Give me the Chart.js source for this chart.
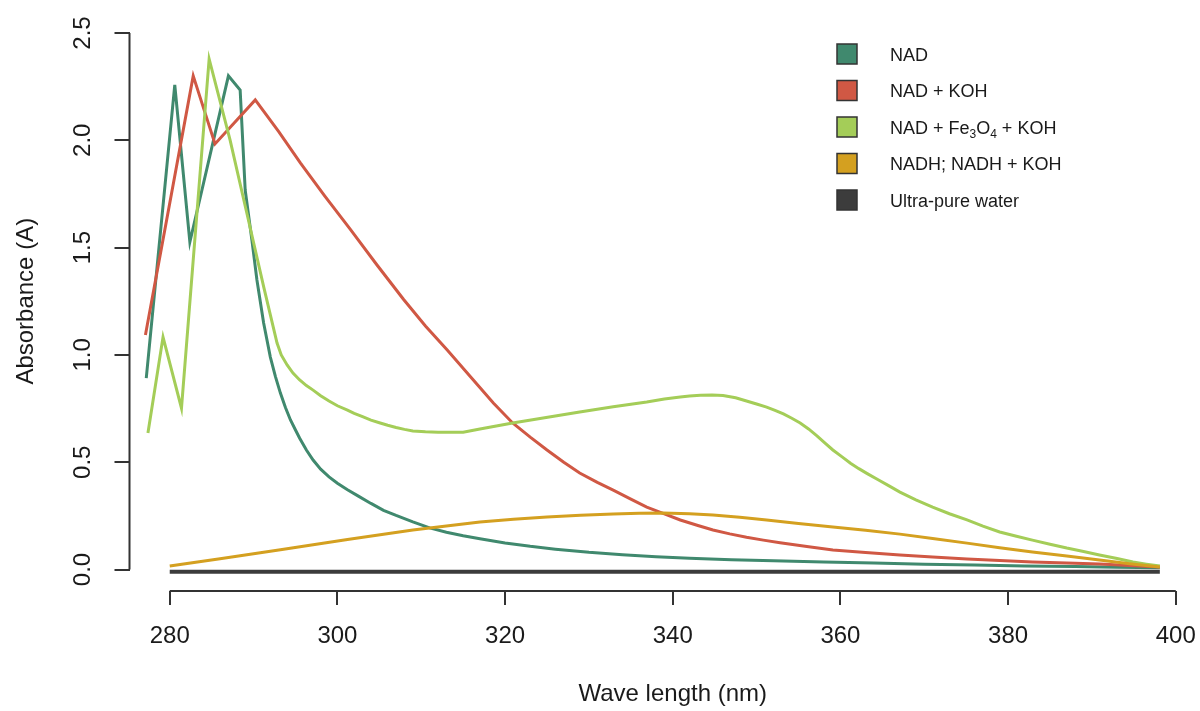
<!DOCTYPE html>
<html>
<head>
<meta charset="utf-8">
<script src="https://cdn.jsdelivr.net/npm/chart.js@4.4.1/dist/chart.umd.min.js"></script>
<style>
  html, body { margin: 0; padding: 0; background: #fff; overflow: hidden; }
  #wrap { width: 1200px; height: 711px; overflow: hidden; }
  canvas { display: block; }
</style>
</head>
<body>
<div id="wrap"><canvas id="spectra" width="1216" height="711"></canvas></div>
<script>
// UV absorbance spectra
const seriesNames = ["NAD", "NAD + KOH", "NAD + Fe3O4 + KOH", "NADH; NADH + KOH", "Ultra-pure water"];
const seriesColors = ["#40896E", "#D05844", "#A4CD58", "#D4A020", "#3C3C3C"];

const xTicks = [280, 300, 320, 340, 360, 380, 400];
const yTicks = [0, 0.5, 1, 1.5, 2, 2.5];

const nadX = [277.2, 280.6, 282.4, 287.0, 288.4, 289.0, 289.8, 290.4, 291.2, 292.0, 292.6, 293.2, 293.8, 294.4, 295.0,
  295.5, 296.3, 297.1, 298.0, 299.0, 300.0, 301.2, 302.5, 304.0, 305.5, 307.0, 309.0, 311.0, 313.0, 315.0,
  317.0, 320.0, 323.0, 326.0, 330.0, 334.0, 338.0, 342.0, 347.0, 352.0, 358.0, 364.0, 370.0, 376.0, 382.0,
  388.0, 393.0, 398.1];
const nadY = [0.892, 2.258, 1.526, 2.300, 2.234, 1.768, 1.535, 1.349, 1.149, 0.990, 0.900, 0.822, 0.755, 0.697, 0.650,
  0.612, 0.557, 0.510, 0.468, 0.432, 0.402, 0.372, 0.342, 0.308, 0.276, 0.252, 0.222, 0.194, 0.174, 0.157,
  0.143, 0.124, 0.108, 0.095, 0.080, 0.069, 0.060, 0.053, 0.046, 0.041, 0.035, 0.030, 0.025, 0.021, 0.017,
  0.014, 0.011, 0.008];

const kohX = [277.1, 282.8, 285.4, 290.2, 293.0, 295.6, 298.5, 301.5, 304.7, 307.9, 310.5, 313.1, 315.9, 318.6,
  320.9, 323.0, 325.0, 327.0, 328.9, 331.0, 332.9, 335.0, 336.9, 339.0, 340.9, 343.0, 344.8, 346.8, 348.8,
  350.8, 352.8, 356.0, 359.1, 363.0, 367.1, 371.0, 375.1, 379.0, 382.9, 387.0, 390.9, 394.5, 398.1];
const kohY = [1.093, 2.300, 1.983, 2.188, 2.040, 1.894, 1.740, 1.587, 1.420, 1.258, 1.135, 1.023, 0.897, 0.776,
  0.683, 0.617, 0.557, 0.500, 0.450, 0.406, 0.370, 0.328, 0.291, 0.259, 0.231, 0.205, 0.184, 0.166, 0.150,
  0.137, 0.125, 0.107, 0.091, 0.079, 0.068, 0.058, 0.049, 0.042, 0.035, 0.030, 0.026, 0.019, 0.012];

const feX = [277.4, 279.2, 281.4, 284.7, 287.2, 289.2, 291.2, 292.8, 293.3, 294.0, 294.7, 295.5, 296.3, 297.1, 298.0,
  299.0, 300.0, 301.2, 302.0, 303.0, 304.0, 305.1, 306.0, 307.0, 308.0, 309.0, 310.5, 312.0, 315.0, 317.0,
  320.9, 324.9, 328.9, 332.9, 336.9, 339.0, 340.9, 342.0, 343.3, 344.7, 346.0, 347.5, 348.8, 350.0, 351.2,
  352.2, 353.2, 354.2, 355.2, 356.2, 357.2, 358.2, 359.1, 360.2, 361.2, 362.2, 363.2, 364.5, 365.8, 367.1,
  369.0, 371.0, 373.0, 375.1, 377.0, 379.0, 381.0, 382.9, 385.0, 387.0, 389.0, 390.9, 393.0, 394.9, 396.5,
  398.1];
const feY = [0.636, 1.083, 0.752, 2.379, 2.001, 1.660, 1.318, 1.055, 1.000, 0.953, 0.915, 0.883, 0.857, 0.836, 0.810,
  0.785, 0.763, 0.743, 0.728, 0.712, 0.696, 0.683, 0.672, 0.662, 0.653, 0.646, 0.642, 0.640, 0.640, 0.655,
  0.683, 0.708, 0.734, 0.758, 0.781, 0.795, 0.804, 0.809, 0.812, 0.813, 0.811, 0.800, 0.785, 0.771, 0.757,
  0.742, 0.725, 0.705, 0.683, 0.655, 0.623, 0.588, 0.557, 0.525, 0.495, 0.470, 0.447, 0.418, 0.390, 0.361,
  0.325, 0.291, 0.260, 0.231, 0.202, 0.175, 0.155, 0.137, 0.118, 0.100, 0.084, 0.068, 0.051, 0.035, 0.025,
  0.016];

const nadhX = [280.0, 286.0, 293.2, 301.2, 309.0, 317.0, 321.0, 325.0, 329.0, 332.9, 336.0, 338.8, 342.0, 344.8,
  348.0, 351.2, 355.0, 359.1, 363.0, 367.1, 371.0, 375.1, 379.0, 382.9, 387.0, 390.9, 394.5, 398.1];
const nadhY = [0.016, 0.050, 0.092, 0.140, 0.184, 0.221, 0.234, 0.245, 0.253, 0.259, 0.262, 0.263, 0.260, 0.254,
  0.244, 0.231, 0.215, 0.198, 0.183, 0.165, 0.145, 0.123, 0.102, 0.082, 0.063, 0.044, 0.027, 0.012];

const waterX = [280.0, 398.1];
const waterY = [-0.01, -0.01];

const seriesX = [nadX, kohX, feX, nadhX, waterX];
const seriesY = [nadY, kohY, feY, nadhY, waterY];

const FONT = "'Liberation Sans', Arial, sans-serif";
const INK = "#1a1a1a";

// R-style axis lines that only span the tick range
const axisLines = {
  id: "axisLines",
  afterDraw(chart) {
    const { ctx, chartArea, scales: { x, y } } = chart;
    ctx.save();
    ctx.strokeStyle = "#333";
    ctx.lineWidth = 2;
    ctx.beginPath();
    ctx.moveTo(x.getPixelForValue(xTicks[0]), chartArea.bottom);
    ctx.lineTo(x.getPixelForValue(xTicks[xTicks.length - 1]), chartArea.bottom);
    ctx.moveTo(chartArea.left, y.getPixelForValue(yTicks[0]));
    ctx.lineTo(chartArea.left, y.getPixelForValue(yTicks[yTicks.length - 1]));
    ctx.stroke();
    ctx.restore();
  }
};

// text with chemical subscripts (digits after a letter)
function drawChemText(ctx, text, x, baseline) {
  const parts = text.split(/(\d)/);
  let cx = x;
  parts.forEach(p => {
    if (!p) return;
    const sub = /^\d$/.test(p);
    ctx.font = (sub ? "12px " : "18px ") + FONT;
    ctx.fillText(p, cx, sub ? baseline + 4 : baseline);
    cx += ctx.measureText(p).width;
  });
}

const boxLegend = {
  id: "boxLegend",
  afterDraw(chart) {
    const ctx = chart.ctx;
    ctx.save();
    ctx.textBaseline = "alphabetic";
    ctx.textAlign = "left";
    seriesNames.forEach((name, i) => {
      const cy = 54 + i * 36.5;
      ctx.fillStyle = seriesColors[i];
      ctx.fillRect(837, cy - 10, 20, 20);
      ctx.strokeStyle = "#333";
      ctx.lineWidth = 1.5;
      ctx.strokeRect(837, cy - 10, 20, 20);
      ctx.fillStyle = INK;
      drawChemText(ctx, name, 890, cy + 6.5);
    });
    ctx.restore();
  }
};

const datasets = seriesNames.map((name, i) => ({
  label: name,
  data: seriesX[i].map((xv, j) => ({ x: xv, y: seriesY[i][j] })),
  borderColor: seriesColors[i],
  backgroundColor: seriesColors[i],
  borderWidth: i === 4 ? 4 : 3,
  pointRadius: 0,
  tension: 0,
  fill: false,
  order: seriesNames.length - i,
}));

new Chart(document.getElementById("spectra"), {
  type: "line",
  data: { datasets },
  options: {
    responsive: false,
    animation: false,
    devicePixelRatio: 1,
    layout: { padding: { top: 11.5, left: 0, right: 0, bottom: 0 } },
    plugins: { legend: { display: false }, tooltip: { enabled: false } },
    scales: {
      x: {
        type: "linear",
        min: 275.2,
        max: 404.8,
        afterBuildTicks: s => { s.ticks = xTicks.map(v => ({ value: v })); },
        afterFit: s => { s.height = 120; s.paddingLeft = 0; s.paddingRight = 0; },
        border: { display: false },
        grid: { drawOnChartArea: false, drawTicks: true, tickLength: 14, color: "#333", lineWidth: 2 },
        ticks: {
          autoSkip: false, maxRotation: 0, padding: 17, color: INK,
          font: { family: FONT, size: 24 },
          callback: v => String(v)
        },
        title: {
          display: true, text: "Wave length (nm)", color: INK,
          font: { family: FONT, size: 24 }, padding: { top: 0, bottom: 2 }
        }
      },
      y: {
        min: -0.1,
        max: 2.6,
        afterBuildTicks: s => { s.ticks = yTicks.map(v => ({ value: v })); },
        afterFit: s => { s.width = 129.5; s.paddingTop = 0; s.paddingBottom = 0; },
        border: { display: false },
        grid: { drawOnChartArea: false, drawTicks: true, tickLength: 15, color: "#333", lineWidth: 2 },
        ticks: {
          minRotation: 90, maxRotation: 90, crossAlign: "center", padding: 14, color: INK,
          font: { family: FONT, size: 24 },
          callback: v => v.toFixed(1)
        },
        title: {
          display: true, text: "Absorbance (A)", color: INK,
          font: { family: FONT, size: 24 }, padding: { top: 12, bottom: 0 }
        }
      }
    }
  },
  plugins: [axisLines, boxLegend]
});
</script>
</body>
</html>
